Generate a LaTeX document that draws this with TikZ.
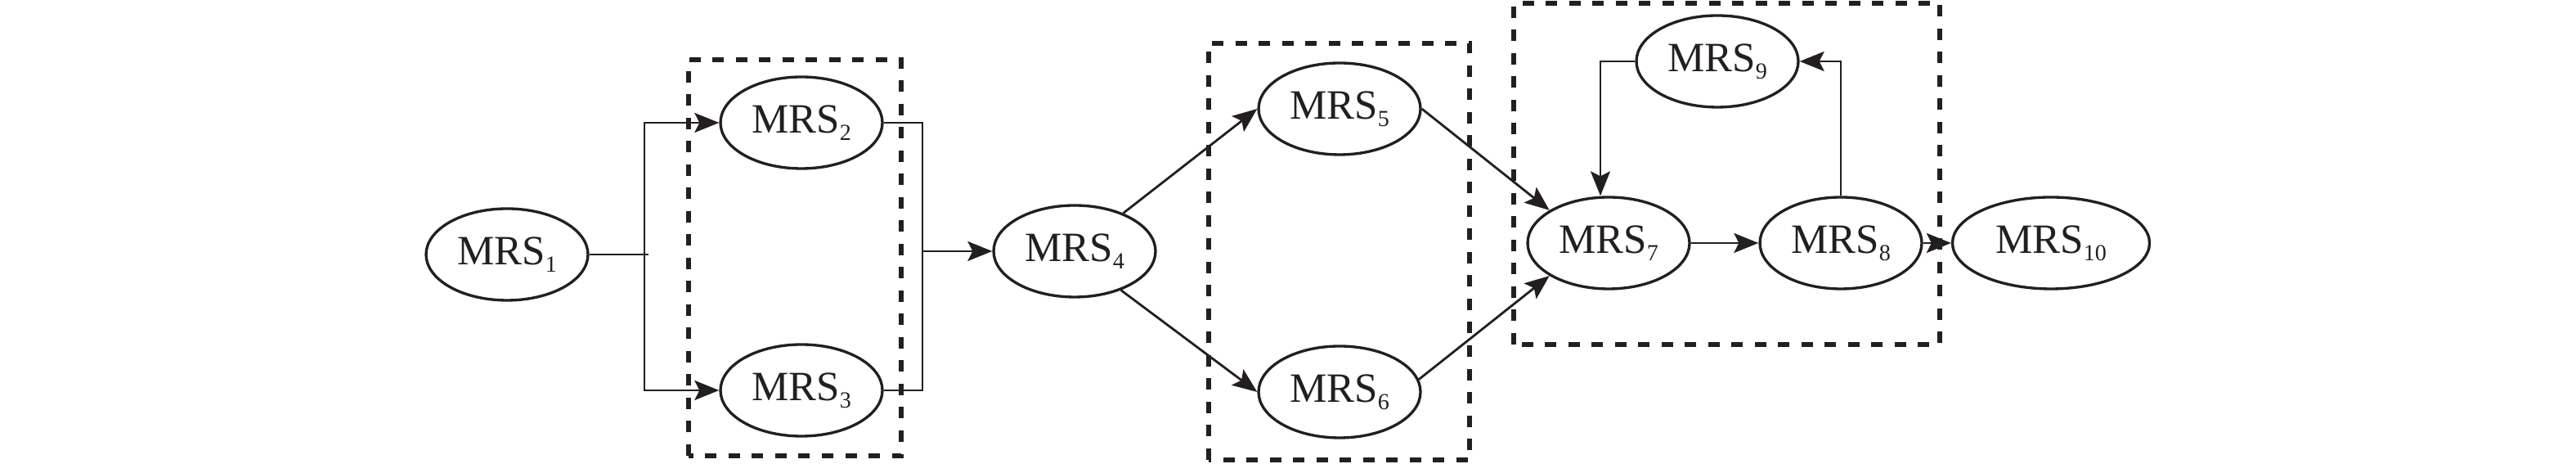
\documentclass[tikz,border=0pt]{standalone}
\usepackage{fontspec}
\setmainfont{Liberation Serif}
\usetikzlibrary{shapes.geometric,arrows.meta}
\definecolor{ink}{HTML}{231F20}
\newcommand{\mrs}[1]{MRS\raisebox{-2.6pt}{\fontsize{8}{9}\selectfont #1}}

\begin{document}
\begin{tikzpicture}[color=ink,
    >={Stealth[length=3mm,width=2.4mm,inset=0.6mm]},
    mrs/.style={ellipse,draw,line width=0.95pt,minimum width=1.98cm,minimum height=1.12cm,
      inner sep=0pt,font=\fontsize{14.5}{17}\selectfont},
    group/.style={draw,line width=1.8pt,dash pattern=on 0.14cm off 0.145cm},
    link/.style={line width=0.8pt},
    loop/.style={line width=0.65pt}]
  \useasboundingbox (0,0) rectangle (31.5,5.67);

  \node[mrs] (m1) at (6.20,2.56) {\mrs{1}};
  \node[mrs] (m2) at (9.80,4.17) {\mrs{2}};
  \node[mrs] (m3) at (9.80,0.90) {\mrs{3}};
  \node[mrs] (m4) at (13.14,2.60) {\mrs{4}};
  \node[mrs] (m5) at (16.38,4.34) {\mrs{5}};
  \node[mrs] (m6) at (16.38,0.88) {\mrs{6}};
  \node[mrs] (m7) at (19.67,2.70) {\mrs{7}};
  \node[mrs] (m8) at (22.51,2.70) {\mrs{8}};
  \node[mrs] (m9) at (21.00,4.92) {\mrs{9}};
  \node[mrs,minimum width=2.41cm] (m10) at (25.08,2.70) {\mrs{10}};

  % dashed groups
  \draw[group] (8.42,0.10) rectangle (11.02,4.94);
  \draw[group] (14.78,0.05) rectangle (17.97,5.14);
  \draw[group] (18.51,1.46) rectangle (23.72,5.63);

  % fork and join
  \coordinate (fork) at (7.88,2.56);
  \coordinate (join) at (11.28,2.60);
  \draw[link] (m1) -- ([xshift=0.05cm]fork);
  \draw[link,->] (fork) |- (m2);
  \draw[link,->] (fork) |- (m3);
  \draw[link] (m2.east) -| (join) |- (m3.east);

  \path[link,->]
    (join) edge (m4)
    (m4.38) edge (m5.west)
    (m4.-40) edge (m6.west)
    (m5.east) edge (m7.151)
    (m6.9) edge (m7.209)
    (m7) edge (m8)
    (m8) edge (m10);

  % feedback loop
  \draw[loop,->] (m8) |- (m9);
  \draw[loop,->] (m9) -| ([xshift=-0.1cm]m7.north);
\end{tikzpicture}
\end{document}
